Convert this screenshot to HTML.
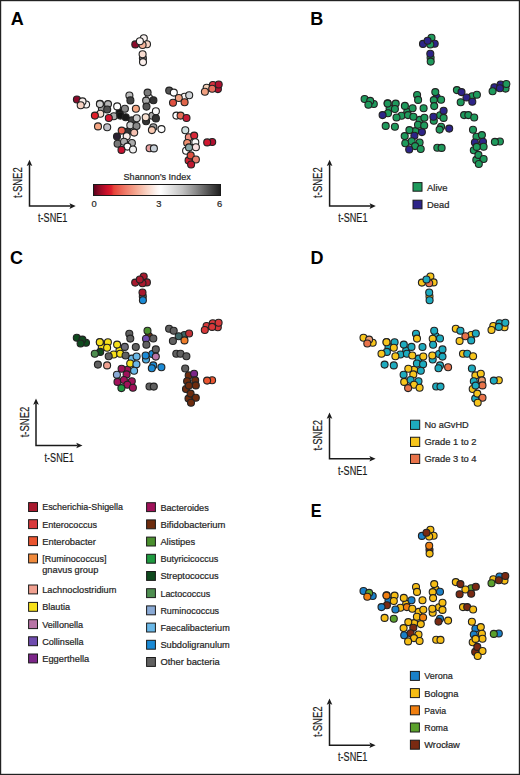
<!DOCTYPE html>
<html><head><meta charset="utf-8"><style>
html,body{margin:0;padding:0;background:#fff}
#f{position:relative;width:520px;height:775px;overflow:hidden;background:#fff}
svg{position:absolute;left:0;top:0}
.ax{font-family:"Liberation Sans",sans-serif;font-size:13.6px;fill:#1a1a1a;stroke:#1a1a1a;stroke-width:0.2px}
.lg{font-family:"Liberation Sans",sans-serif;font-size:9.4px;fill:#262626;stroke:#262626;stroke-width:0.22px}
.pl{font-family:"Liberation Sans",sans-serif;font-size:18px;font-weight:bold;fill:#000}
</style></head><body><div id="f">
<svg width="520" height="775" viewBox="0 0 520 775">
<rect x="0.6" y="0.6" width="518.8" height="773.8" fill="none" stroke="#222" stroke-width="1.2"/>
<text class="pl" x="10.8" y="25.2">A</text>
<text class="pl" x="310.2" y="25.2">B</text>
<text class="pl" x="10" y="263.5">C</text>
<text class="pl" x="310.5" y="263.5">D</text>
<text class="pl" transform="translate(310.7 516.9) scale(0.9 0.97)">E</text>
<g stroke="#222" stroke-width="1.1"><circle cx="142.9" cy="58.2" r="3.5" fill="#888888"/><circle cx="100.0" cy="103.8" r="3.5" fill="#c8c8c8"/><circle cx="101.9" cy="108.7" r="3.5" fill="#9a9a9a"/><circle cx="119.6" cy="112.2" r="3.5" fill="#141414"/><circle cx="152.4" cy="115.8" r="3.5" fill="#aaaaaa"/><circle cx="127.6" cy="131.6" r="3.5" fill="#333333"/><circle cx="184.6" cy="96.8" r="3.5" fill="#f6f2f0"/><circle cx="186.1" cy="150.8" r="3.5" fill="#ffffff"/><circle cx="188.6" cy="160.4" r="3.5" fill="#d02030"/><circle cx="212.2" cy="142.0" r="3.5" fill="#b01030"/><circle cx="217.9" cy="89.1" r="3.5" fill="#b01030"/><circle cx="149.0" cy="97.8" r="3.5" fill="#f4f4f4"/><circle cx="132.0" cy="120.4" r="3.5" fill="#444444"/><circle cx="143.8" cy="38.3" r="3.5" fill="#f7f0ee"/><circle cx="135.3" cy="44.4" r="3.5" fill="#8b0a2a"/><circle cx="147.0" cy="44.2" r="3.5" fill="#f8d4c4"/><circle cx="142.6" cy="45.0" r="3.5" fill="#f4b39a"/><circle cx="139.9" cy="41.3" r="3.5" fill="#fbf5f3"/><circle cx="142.6" cy="54.3" r="3.5" fill="#f8dcd0"/><circle cx="143.0" cy="62.1" r="3.5" fill="#fcf0ec"/><circle cx="76.9" cy="99.5" r="3.5" fill="#8b0a2a"/><circle cx="86.1" cy="104.5" r="3.5" fill="#f5f3f3"/><circle cx="82.5" cy="101.4" r="3.5" fill="#f8efec"/><circle cx="80.7" cy="105.3" r="3.5" fill="#f5d0c0"/><circle cx="99.9" cy="104.1" r="3.5" fill="#d0d0d0"/><circle cx="108.0" cy="104.1" r="3.5" fill="#b5b5b5"/><circle cx="107.2" cy="109.5" r="3.5" fill="#505050"/><circle cx="100.3" cy="113.7" r="3.5" fill="#f8ddd0"/><circle cx="94.9" cy="115.6" r="3.5" fill="#e0202a"/><circle cx="113.8" cy="116.3" r="3.5" fill="#a8a8a8"/><circle cx="108.8" cy="118.0" r="3.5" fill="#d51530"/><circle cx="117.2" cy="106.4" r="3.5" fill="#ffffff"/><circle cx="124.9" cy="108.7" r="3.5" fill="#888888"/><circle cx="120.3" cy="115.6" r="3.5" fill="#141414"/><circle cx="125.7" cy="117.3" r="3.5" fill="#1a1a1a"/><circle cx="129.4" cy="95.5" r="3.5" fill="#bbbbbb"/><circle cx="130.4" cy="100.4" r="3.5" fill="#444444"/><circle cx="135.9" cy="108.8" r="3.5" fill="#f4a582"/><circle cx="147.6" cy="92.6" r="3.5" fill="#7a7a7a"/><circle cx="146.1" cy="100.6" r="3.5" fill="#aaaaaa"/><circle cx="153.4" cy="100.3" r="3.5" fill="#333333"/><circle cx="146.5" cy="106.6" r="3.5" fill="#555555"/><circle cx="155.9" cy="111.2" r="3.5" fill="#f8f8f8"/><circle cx="155.9" cy="118.4" r="3.5" fill="#333333"/><circle cx="136.7" cy="118.3" r="3.5" fill="#cccccc"/><circle cx="146.1" cy="121.3" r="3.5" fill="#333333"/><circle cx="145.7" cy="117.3" r="3.5" fill="#f8e0d0"/><circle cx="98.0" cy="126.4" r="3.5" fill="#f4a582"/><circle cx="107.2" cy="127.2" r="3.5" fill="#c0c0c8"/><circle cx="130.3" cy="125.3" r="3.5" fill="#cccccc"/><circle cx="136.5" cy="126.0" r="3.5" fill="#888888"/><circle cx="134.2" cy="132.6" r="3.5" fill="#f4c0b0"/><circle cx="121.7" cy="130.6" r="3.5" fill="#e8604d"/><circle cx="126.7" cy="136.2" r="3.5" fill="#f8ece8"/><circle cx="117.0" cy="136.6" r="3.5" fill="#2a2030"/><circle cx="131.9" cy="143.0" r="3.5" fill="#aaaaaa"/><circle cx="117.6" cy="143.7" r="3.5" fill="#777777"/><circle cx="124.0" cy="141.8" r="3.5" fill="#aaaaaa"/><circle cx="127.4" cy="146.6" r="3.5" fill="#ffffff"/><circle cx="133.0" cy="149.5" r="3.5" fill="#f0f0f0"/><circle cx="121.5" cy="149.9" r="3.5" fill="#c8102e"/><circle cx="153.4" cy="127.2" r="3.5" fill="#999999"/><circle cx="151.9" cy="130.1" r="3.5" fill="#f8c8b0"/><circle cx="161.5" cy="129.1" r="3.5" fill="#ffffff"/><circle cx="149.6" cy="148.3" r="3.5" fill="#e8a0a0"/><circle cx="153.9" cy="148.4" r="3.5" fill="#c8d0d8"/><circle cx="178.8" cy="98.0" r="3.5" fill="#f0a080"/><circle cx="169.2" cy="90.6" r="3.5" fill="#555555"/><circle cx="173.8" cy="92.6" r="3.5" fill="#ffffff"/><circle cx="189.2" cy="95.3" r="3.5" fill="#d0d4d8"/><circle cx="184.6" cy="102.2" r="3.5" fill="#e0654a"/><circle cx="173.0" cy="102.8" r="3.5" fill="#e05040"/><circle cx="176.4" cy="115.6" r="3.5" fill="#ffffff"/><circle cx="180.6" cy="115.6" r="3.5" fill="#e8705a"/><circle cx="186.5" cy="118.0" r="3.5" fill="#c81a35"/><circle cx="185.3" cy="130.3" r="3.5" fill="#d0e0e0"/><circle cx="188.8" cy="137.2" r="3.5" fill="#f09080"/><circle cx="194.2" cy="135.6" r="3.5" fill="#d82838"/><circle cx="187.2" cy="143.0" r="3.5" fill="#f09070"/><circle cx="195.3" cy="142.2" r="3.5" fill="#f8f8f8"/><circle cx="195.9" cy="147.2" r="3.5" fill="#f8e0e0"/><circle cx="189.0" cy="147.4" r="3.5" fill="#8aa8a8"/><circle cx="190.7" cy="155.4" r="3.5" fill="#e05040"/><circle cx="195.9" cy="159.5" r="3.5" fill="#e88070"/><circle cx="191.1" cy="164.5" r="3.5" fill="#c01830"/><circle cx="207.2" cy="142.4" r="3.5" fill="#d01830"/><circle cx="206.7" cy="87.8" r="3.5" fill="#f4d0b8"/><circle cx="204.9" cy="91.8" r="3.5" fill="#f0a080"/><circle cx="212.9" cy="85.0" r="3.5" fill="#d83040"/><circle cx="212.2" cy="88.7" r="3.5" fill="#e87060"/><circle cx="218.7" cy="84.5" r="3.5" fill="#b01030"/></g>
<g stroke="#222" stroke-width="1.1"><circle cx="430.6" cy="57.7" r="3.5" fill="#1e9a5c"/><circle cx="387.7" cy="103.3" r="3.5" fill="#1e9a5c"/><circle cx="389.6" cy="108.2" r="3.5" fill="#1e9a5c"/><circle cx="407.3" cy="111.7" r="3.5" fill="#1e9a5c"/><circle cx="440.1" cy="115.3" r="3.5" fill="#1e9a5c"/><circle cx="415.3" cy="131.1" r="3.5" fill="#1e9a5c"/><circle cx="472.3" cy="96.3" r="3.5" fill="#1e9a5c"/><circle cx="473.8" cy="150.3" r="3.5" fill="#1e9a5c"/><circle cx="476.3" cy="159.9" r="3.5" fill="#1e9a5c"/><circle cx="499.9" cy="141.5" r="3.5" fill="#1e9a5c"/><circle cx="505.6" cy="88.6" r="3.5" fill="#1e9a5c"/><circle cx="436.7" cy="97.3" r="3.5" fill="#2d2488"/><circle cx="419.7" cy="119.9" r="3.5" fill="#1e9a5c"/><circle cx="431.5" cy="37.8" r="3.5" fill="#1e9a5c"/><circle cx="423.0" cy="43.9" r="3.5" fill="#2d2488"/><circle cx="434.7" cy="43.7" r="3.5" fill="#2d2488"/><circle cx="430.3" cy="44.5" r="3.5" fill="#1e9a5c"/><circle cx="427.6" cy="40.8" r="3.5" fill="#2d2488"/><circle cx="430.3" cy="53.8" r="3.5" fill="#2d2488"/><circle cx="430.7" cy="61.6" r="3.5" fill="#1e9a5c"/><circle cx="364.6" cy="99.0" r="3.5" fill="#1e9a5c"/><circle cx="373.8" cy="104.0" r="3.5" fill="#1e9a5c"/><circle cx="370.2" cy="100.9" r="3.5" fill="#1e9a5c"/><circle cx="368.4" cy="104.8" r="3.5" fill="#1e9a5c"/><circle cx="387.6" cy="103.6" r="3.5" fill="#1e9a5c"/><circle cx="395.7" cy="103.6" r="3.5" fill="#1e9a5c"/><circle cx="394.9" cy="109.0" r="3.5" fill="#1e9a5c"/><circle cx="388.0" cy="113.2" r="3.5" fill="#1e9a5c"/><circle cx="382.6" cy="115.1" r="3.5" fill="#2d2488"/><circle cx="401.5" cy="115.8" r="3.5" fill="#1e9a5c"/><circle cx="396.5" cy="117.5" r="3.5" fill="#1e9a5c"/><circle cx="404.9" cy="105.9" r="3.5" fill="#1e9a5c"/><circle cx="412.6" cy="108.2" r="3.5" fill="#1e9a5c"/><circle cx="408.0" cy="115.1" r="3.5" fill="#1e9a5c"/><circle cx="413.4" cy="116.8" r="3.5" fill="#1e9a5c"/><circle cx="417.1" cy="95.0" r="3.5" fill="#1e9a5c"/><circle cx="418.1" cy="99.9" r="3.5" fill="#1e9a5c"/><circle cx="423.6" cy="108.3" r="3.5" fill="#1e9a5c"/><circle cx="435.3" cy="92.1" r="3.5" fill="#1e9a5c"/><circle cx="433.8" cy="100.1" r="3.5" fill="#1e9a5c"/><circle cx="441.1" cy="99.8" r="3.5" fill="#1e9a5c"/><circle cx="434.2" cy="106.1" r="3.5" fill="#1e9a5c"/><circle cx="443.6" cy="110.7" r="3.5" fill="#2d2488"/><circle cx="443.6" cy="117.9" r="3.5" fill="#1e9a5c"/><circle cx="424.4" cy="117.8" r="3.5" fill="#1e9a5c"/><circle cx="433.8" cy="120.8" r="3.5" fill="#1e9a5c"/><circle cx="433.4" cy="116.8" r="3.5" fill="#2d2488"/><circle cx="385.7" cy="125.9" r="3.5" fill="#1e9a5c"/><circle cx="394.9" cy="126.7" r="3.5" fill="#1e9a5c"/><circle cx="418.0" cy="124.8" r="3.5" fill="#1e9a5c"/><circle cx="424.2" cy="125.5" r="3.5" fill="#1e9a5c"/><circle cx="421.9" cy="132.1" r="3.5" fill="#2d2488"/><circle cx="409.4" cy="130.1" r="3.5" fill="#1e9a5c"/><circle cx="414.4" cy="135.7" r="3.5" fill="#2d2488"/><circle cx="404.7" cy="136.1" r="3.5" fill="#1e9a5c"/><circle cx="419.6" cy="142.5" r="3.5" fill="#1e9a5c"/><circle cx="405.3" cy="143.2" r="3.5" fill="#1e9a5c"/><circle cx="411.7" cy="141.3" r="3.5" fill="#1e9a5c"/><circle cx="415.1" cy="146.1" r="3.5" fill="#1e9a5c"/><circle cx="420.7" cy="149.0" r="3.5" fill="#1e9a5c"/><circle cx="409.2" cy="149.4" r="3.5" fill="#2d2488"/><circle cx="441.1" cy="126.7" r="3.5" fill="#1e9a5c"/><circle cx="439.6" cy="129.6" r="3.5" fill="#1e9a5c"/><circle cx="449.2" cy="128.6" r="3.5" fill="#2d2488"/><circle cx="437.3" cy="147.8" r="3.5" fill="#1e9a5c"/><circle cx="441.6" cy="147.9" r="3.5" fill="#1e9a5c"/><circle cx="466.5" cy="97.5" r="3.5" fill="#2d2488"/><circle cx="456.9" cy="90.1" r="3.5" fill="#1e9a5c"/><circle cx="461.5" cy="92.1" r="3.5" fill="#2d2488"/><circle cx="476.9" cy="94.8" r="3.5" fill="#1e9a5c"/><circle cx="472.3" cy="101.7" r="3.5" fill="#2d2488"/><circle cx="460.7" cy="102.3" r="3.5" fill="#1e9a5c"/><circle cx="464.1" cy="115.1" r="3.5" fill="#1e9a5c"/><circle cx="468.3" cy="115.1" r="3.5" fill="#1e9a5c"/><circle cx="474.2" cy="117.5" r="3.5" fill="#1e9a5c"/><circle cx="473.0" cy="129.8" r="3.5" fill="#1e9a5c"/><circle cx="476.5" cy="136.7" r="3.5" fill="#1e9a5c"/><circle cx="481.9" cy="135.1" r="3.5" fill="#1e9a5c"/><circle cx="474.9" cy="142.5" r="3.5" fill="#2d2488"/><circle cx="483.0" cy="141.7" r="3.5" fill="#2d2488"/><circle cx="483.6" cy="146.7" r="3.5" fill="#1e9a5c"/><circle cx="476.7" cy="146.9" r="3.5" fill="#1e9a5c"/><circle cx="478.4" cy="154.9" r="3.5" fill="#1e9a5c"/><circle cx="483.6" cy="159.0" r="3.5" fill="#1e9a5c"/><circle cx="478.8" cy="164.0" r="3.5" fill="#1e9a5c"/><circle cx="494.9" cy="141.9" r="3.5" fill="#1e9a5c"/><circle cx="494.4" cy="87.3" r="3.5" fill="#2d2488"/><circle cx="492.6" cy="91.3" r="3.5" fill="#1e9a5c"/><circle cx="500.6" cy="84.5" r="3.5" fill="#2d2488"/><circle cx="499.9" cy="88.2" r="3.5" fill="#2d2488"/><circle cx="506.4" cy="84.0" r="3.5" fill="#1e9a5c"/></g>
<g stroke="#222" stroke-width="1.1"><circle cx="142.8" cy="296.4" r="3.5" fill="#606060"/><circle cx="99.9" cy="342.0" r="3.5" fill="#f7e01a"/><circle cx="101.8" cy="346.9" r="3.5" fill="#f7e01a"/><circle cx="119.5" cy="350.4" r="3.5" fill="#f7e01a"/><circle cx="152.3" cy="354.0" r="3.5" fill="#1a8ad5"/><circle cx="127.5" cy="369.8" r="3.5" fill="#a0125a"/><circle cx="184.5" cy="335.0" r="3.5" fill="#3d6666"/><circle cx="186.0" cy="389.0" r="3.5" fill="#6e2c0e"/><circle cx="188.5" cy="398.6" r="3.5" fill="#6e2c0e"/><circle cx="212.1" cy="380.2" r="3.5" fill="#ea5530"/><circle cx="217.8" cy="327.3" r="3.5" fill="#d8383a"/><circle cx="148.9" cy="336.0" r="3.5" fill="#6e2c0e"/><circle cx="131.9" cy="358.6" r="3.5" fill="#6ab8e8"/><circle cx="143.7" cy="276.5" r="3.5" fill="#a8192e"/><circle cx="135.2" cy="282.6" r="3.5" fill="#a8192e"/><circle cx="146.9" cy="282.4" r="3.5" fill="#a8192e"/><circle cx="142.5" cy="283.2" r="3.5" fill="#a8192e"/><circle cx="139.8" cy="279.5" r="3.5" fill="#a8192e"/><circle cx="142.5" cy="292.5" r="3.5" fill="#a8192e"/><circle cx="142.9" cy="300.3" r="3.5" fill="#1a8ad5"/><circle cx="76.8" cy="337.7" r="3.5" fill="#0f4a1e"/><circle cx="86.0" cy="342.7" r="3.5" fill="#0f4a1e"/><circle cx="82.4" cy="339.6" r="3.5" fill="#0f4a1e"/><circle cx="80.6" cy="343.5" r="3.5" fill="#0f4a1e"/><circle cx="99.8" cy="342.3" r="3.5" fill="#f7e01a"/><circle cx="107.9" cy="342.3" r="3.5" fill="#f7e01a"/><circle cx="107.1" cy="347.7" r="3.5" fill="#f7e01a"/><circle cx="100.2" cy="351.9" r="3.5" fill="#0f4a1e"/><circle cx="94.8" cy="353.8" r="3.5" fill="#4e8e50"/><circle cx="113.7" cy="354.5" r="3.5" fill="#f7e01a"/><circle cx="108.7" cy="356.2" r="3.5" fill="#606060"/><circle cx="117.1" cy="344.6" r="3.5" fill="#f7e01a"/><circle cx="124.8" cy="346.9" r="3.5" fill="#6c6c78"/><circle cx="120.2" cy="353.8" r="3.5" fill="#f7e01a"/><circle cx="125.6" cy="355.5" r="3.5" fill="#606060"/><circle cx="129.3" cy="333.7" r="3.5" fill="#606060"/><circle cx="130.3" cy="338.6" r="3.5" fill="#606060"/><circle cx="135.8" cy="347.0" r="3.5" fill="#606060"/><circle cx="147.5" cy="330.8" r="3.5" fill="#4a8f2e"/><circle cx="146.0" cy="338.8" r="3.5" fill="#6f4cae"/><circle cx="153.3" cy="338.5" r="3.5" fill="#606060"/><circle cx="146.4" cy="344.8" r="3.5" fill="#606060"/><circle cx="155.8" cy="349.4" r="3.5" fill="#606060"/><circle cx="155.8" cy="356.6" r="3.5" fill="#b874a6"/><circle cx="136.6" cy="356.5" r="3.5" fill="#6ab8e8"/><circle cx="146.0" cy="359.5" r="3.5" fill="#4aa8dd"/><circle cx="145.6" cy="355.5" r="3.5" fill="#1a8ad5"/><circle cx="97.9" cy="364.6" r="3.5" fill="#606060"/><circle cx="107.1" cy="365.4" r="3.5" fill="#f0a090"/><circle cx="130.2" cy="363.5" r="3.5" fill="#f7e01a"/><circle cx="136.4" cy="364.2" r="3.5" fill="#6ab8e8"/><circle cx="134.1" cy="370.8" r="3.5" fill="#6ab8e8"/><circle cx="121.6" cy="368.8" r="3.5" fill="#a0125a"/><circle cx="126.6" cy="374.4" r="3.5" fill="#a0125a"/><circle cx="116.9" cy="374.8" r="3.5" fill="#8aaad5"/><circle cx="131.8" cy="381.2" r="3.5" fill="#a0125a"/><circle cx="117.5" cy="381.9" r="3.5" fill="#a0125a"/><circle cx="123.9" cy="380.0" r="3.5" fill="#a0125a"/><circle cx="127.3" cy="384.8" r="3.5" fill="#a0125a"/><circle cx="132.9" cy="387.7" r="3.5" fill="#a0125a"/><circle cx="121.4" cy="388.1" r="3.5" fill="#1f9a40"/><circle cx="153.3" cy="365.4" r="3.5" fill="#1a8ad5"/><circle cx="151.8" cy="368.3" r="3.5" fill="#1a8ad5"/><circle cx="161.4" cy="367.3" r="3.5" fill="#1a8ad5"/><circle cx="149.5" cy="386.5" r="3.5" fill="#606060"/><circle cx="153.8" cy="386.6" r="3.5" fill="#606060"/><circle cx="178.7" cy="336.2" r="3.5" fill="#3d6666"/><circle cx="169.1" cy="328.8" r="3.5" fill="#606060"/><circle cx="173.7" cy="330.8" r="3.5" fill="#606060"/><circle cx="189.1" cy="333.5" r="3.5" fill="#c43036"/><circle cx="184.5" cy="340.4" r="3.5" fill="#ef7d2a"/><circle cx="172.9" cy="341.0" r="3.5" fill="#606060"/><circle cx="176.3" cy="353.8" r="3.5" fill="#606060"/><circle cx="180.5" cy="353.8" r="3.5" fill="#606060"/><circle cx="186.4" cy="356.2" r="3.5" fill="#606060"/><circle cx="185.2" cy="368.5" r="3.5" fill="#606060"/><circle cx="188.7" cy="375.4" r="3.5" fill="#6e2c0e"/><circle cx="194.1" cy="373.8" r="3.5" fill="#7c2689"/><circle cx="187.1" cy="381.2" r="3.5" fill="#6e2c0e"/><circle cx="195.2" cy="380.4" r="3.5" fill="#6e2c0e"/><circle cx="195.8" cy="385.4" r="3.5" fill="#6e2c0e"/><circle cx="188.9" cy="385.6" r="3.5" fill="#6e2c0e"/><circle cx="190.6" cy="393.6" r="3.5" fill="#6e2c0e"/><circle cx="195.8" cy="397.7" r="3.5" fill="#6e2c0e"/><circle cx="191.0" cy="402.7" r="3.5" fill="#6e2c0e"/><circle cx="207.1" cy="380.6" r="3.5" fill="#ea5530"/><circle cx="206.6" cy="326.0" r="3.5" fill="#d8383a"/><circle cx="204.8" cy="330.0" r="3.5" fill="#d8383a"/><circle cx="212.8" cy="323.2" r="3.5" fill="#d8383a"/><circle cx="212.1" cy="326.9" r="3.5" fill="#d8383a"/><circle cx="218.6" cy="322.7" r="3.5" fill="#d8383a"/></g>
<g stroke="#222" stroke-width="1.1"><circle cx="429.5" cy="296.4" r="3.5" fill="#f7c51c"/><circle cx="386.6" cy="342.0" r="3.5" fill="#1eabbf"/><circle cx="388.5" cy="346.9" r="3.5" fill="#1eabbf"/><circle cx="406.2" cy="350.4" r="3.5" fill="#1eabbf"/><circle cx="439.0" cy="354.0" r="3.5" fill="#1eabbf"/><circle cx="414.2" cy="369.8" r="3.5" fill="#f7c51c"/><circle cx="471.2" cy="335.0" r="3.5" fill="#f7c51c"/><circle cx="472.7" cy="389.0" r="3.5" fill="#f7c51c"/><circle cx="475.2" cy="398.6" r="3.5" fill="#1eabbf"/><circle cx="498.8" cy="380.2" r="3.5" fill="#f7c51c"/><circle cx="504.5" cy="327.3" r="3.5" fill="#f7c51c"/><circle cx="435.6" cy="336.0" r="3.5" fill="#1eabbf"/><circle cx="418.6" cy="358.6" r="3.5" fill="#1eabbf"/><circle cx="430.4" cy="276.5" r="3.5" fill="#f7c51c"/><circle cx="421.9" cy="282.6" r="3.5" fill="#f7c51c"/><circle cx="433.6" cy="282.4" r="3.5" fill="#f7c51c"/><circle cx="429.2" cy="283.2" r="3.5" fill="#e8734a"/><circle cx="426.5" cy="279.5" r="3.5" fill="#1eabbf"/><circle cx="429.2" cy="292.5" r="3.5" fill="#1eabbf"/><circle cx="429.6" cy="300.3" r="3.5" fill="#1eabbf"/><circle cx="363.5" cy="337.7" r="3.5" fill="#f7c51c"/><circle cx="372.7" cy="342.7" r="3.5" fill="#f7c51c"/><circle cx="369.1" cy="339.6" r="3.5" fill="#e89a70"/><circle cx="367.3" cy="343.5" r="3.5" fill="#e8734a"/><circle cx="386.5" cy="342.3" r="3.5" fill="#f7c51c"/><circle cx="394.6" cy="342.3" r="3.5" fill="#1eabbf"/><circle cx="393.8" cy="347.7" r="3.5" fill="#f7c51c"/><circle cx="386.9" cy="351.9" r="3.5" fill="#1eabbf"/><circle cx="381.5" cy="353.8" r="3.5" fill="#f7c51c"/><circle cx="400.4" cy="354.5" r="3.5" fill="#1eabbf"/><circle cx="395.4" cy="356.2" r="3.5" fill="#f7c51c"/><circle cx="403.8" cy="344.6" r="3.5" fill="#1eabbf"/><circle cx="411.5" cy="346.9" r="3.5" fill="#1eabbf"/><circle cx="406.9" cy="353.8" r="3.5" fill="#1eabbf"/><circle cx="412.3" cy="355.5" r="3.5" fill="#f7c51c"/><circle cx="416.0" cy="333.7" r="3.5" fill="#1eabbf"/><circle cx="417.0" cy="338.6" r="3.5" fill="#f7c51c"/><circle cx="422.5" cy="347.0" r="3.5" fill="#1eabbf"/><circle cx="434.2" cy="330.8" r="3.5" fill="#1eabbf"/><circle cx="432.7" cy="338.8" r="3.5" fill="#f7c51c"/><circle cx="440.0" cy="338.5" r="3.5" fill="#1eabbf"/><circle cx="433.1" cy="344.8" r="3.5" fill="#1eabbf"/><circle cx="442.5" cy="349.4" r="3.5" fill="#1eabbf"/><circle cx="442.5" cy="356.6" r="3.5" fill="#1eabbf"/><circle cx="423.3" cy="356.5" r="3.5" fill="#f7c51c"/><circle cx="432.7" cy="359.5" r="3.5" fill="#1eabbf"/><circle cx="432.3" cy="355.5" r="3.5" fill="#f7c51c"/><circle cx="384.6" cy="364.6" r="3.5" fill="#1eabbf"/><circle cx="393.8" cy="365.4" r="3.5" fill="#1eabbf"/><circle cx="416.9" cy="363.5" r="3.5" fill="#1eabbf"/><circle cx="423.1" cy="364.2" r="3.5" fill="#1eabbf"/><circle cx="420.8" cy="370.8" r="3.5" fill="#1eabbf"/><circle cx="408.3" cy="368.8" r="3.5" fill="#f7c51c"/><circle cx="413.3" cy="374.4" r="3.5" fill="#f7c51c"/><circle cx="403.6" cy="374.8" r="3.5" fill="#1eabbf"/><circle cx="418.5" cy="381.2" r="3.5" fill="#1eabbf"/><circle cx="404.2" cy="381.9" r="3.5" fill="#f7c51c"/><circle cx="410.6" cy="380.0" r="3.5" fill="#1eabbf"/><circle cx="414.0" cy="384.8" r="3.5" fill="#f7c51c"/><circle cx="419.6" cy="387.7" r="3.5" fill="#f7c51c"/><circle cx="408.1" cy="388.1" r="3.5" fill="#e8734a"/><circle cx="440.0" cy="365.4" r="3.5" fill="#1eabbf"/><circle cx="438.5" cy="368.3" r="3.5" fill="#1eabbf"/><circle cx="448.1" cy="367.3" r="3.5" fill="#e8734a"/><circle cx="436.2" cy="386.5" r="3.5" fill="#1eabbf"/><circle cx="440.5" cy="386.6" r="3.5" fill="#1eabbf"/><circle cx="465.4" cy="336.2" r="3.5" fill="#e8734a"/><circle cx="455.8" cy="328.8" r="3.5" fill="#f7c51c"/><circle cx="460.4" cy="330.8" r="3.5" fill="#1eabbf"/><circle cx="475.8" cy="333.5" r="3.5" fill="#1eabbf"/><circle cx="471.2" cy="340.4" r="3.5" fill="#1eabbf"/><circle cx="459.6" cy="341.0" r="3.5" fill="#f7c51c"/><circle cx="463.0" cy="353.8" r="3.5" fill="#f7c51c"/><circle cx="467.2" cy="353.8" r="3.5" fill="#1eabbf"/><circle cx="473.1" cy="356.2" r="3.5" fill="#f7c51c"/><circle cx="471.9" cy="368.5" r="3.5" fill="#1eabbf"/><circle cx="475.4" cy="375.4" r="3.5" fill="#f7c51c"/><circle cx="480.8" cy="373.8" r="3.5" fill="#f7c51c"/><circle cx="473.8" cy="381.2" r="3.5" fill="#1eabbf"/><circle cx="481.9" cy="380.4" r="3.5" fill="#e89a70"/><circle cx="482.5" cy="385.4" r="3.5" fill="#e8734a"/><circle cx="475.6" cy="385.6" r="3.5" fill="#1eabbf"/><circle cx="477.3" cy="393.6" r="3.5" fill="#f7c51c"/><circle cx="482.5" cy="397.7" r="3.5" fill="#e8734a"/><circle cx="477.7" cy="402.7" r="3.5" fill="#f7c51c"/><circle cx="493.8" cy="380.6" r="3.5" fill="#1eabbf"/><circle cx="493.3" cy="326.0" r="3.5" fill="#f7c51c"/><circle cx="491.5" cy="330.0" r="3.5" fill="#f7c51c"/><circle cx="499.5" cy="323.2" r="3.5" fill="#1eabbf"/><circle cx="498.8" cy="326.9" r="3.5" fill="#1eabbf"/><circle cx="505.3" cy="322.7" r="3.5" fill="#1eabbf"/></g>
<g stroke="#222" stroke-width="1.1"><circle cx="429.5" cy="549.7" r="3.5" fill="#7a2a12"/><circle cx="386.6" cy="595.3" r="3.5" fill="#f07f10"/><circle cx="388.5" cy="600.2" r="3.5" fill="#1a80c8"/><circle cx="406.2" cy="603.7" r="3.5" fill="#f6bd14"/><circle cx="439.0" cy="607.3" r="3.5" fill="#f6bd14"/><circle cx="414.2" cy="623.1" r="3.5" fill="#f6bd14"/><circle cx="471.2" cy="588.3" r="3.5" fill="#5aa02c"/><circle cx="472.7" cy="642.3" r="3.5" fill="#f6bd14"/><circle cx="475.2" cy="651.9" r="3.5" fill="#7a2a12"/><circle cx="498.8" cy="633.5" r="3.5" fill="#1a80c8"/><circle cx="504.5" cy="580.6" r="3.5" fill="#f6bd14"/><circle cx="435.6" cy="589.3" r="3.5" fill="#f6bd14"/><circle cx="418.6" cy="611.9" r="3.5" fill="#f6bd14"/><circle cx="430.4" cy="529.8" r="3.5" fill="#f6bd14"/><circle cx="421.9" cy="535.9" r="3.5" fill="#1a80c8"/><circle cx="433.6" cy="535.7" r="3.5" fill="#f6bd14"/><circle cx="429.2" cy="536.5" r="3.5" fill="#f6bd14"/><circle cx="426.5" cy="532.8" r="3.5" fill="#7a2a12"/><circle cx="429.2" cy="545.8" r="3.5" fill="#f07f10"/><circle cx="429.6" cy="553.6" r="3.5" fill="#f6bd14"/><circle cx="363.5" cy="591.0" r="3.5" fill="#1a80c8"/><circle cx="372.7" cy="596.0" r="3.5" fill="#1a80c8"/><circle cx="369.1" cy="592.9" r="3.5" fill="#5aa02c"/><circle cx="367.3" cy="596.8" r="3.5" fill="#f07f10"/><circle cx="386.5" cy="595.6" r="3.5" fill="#f07f10"/><circle cx="394.6" cy="595.6" r="3.5" fill="#f6bd14"/><circle cx="393.8" cy="601.0" r="3.5" fill="#f6bd14"/><circle cx="386.9" cy="605.2" r="3.5" fill="#7a2a12"/><circle cx="381.5" cy="607.1" r="3.5" fill="#1a80c8"/><circle cx="400.4" cy="607.8" r="3.5" fill="#f6bd14"/><circle cx="395.4" cy="609.5" r="3.5" fill="#1a80c8"/><circle cx="403.8" cy="597.9" r="3.5" fill="#f6bd14"/><circle cx="411.5" cy="600.2" r="3.5" fill="#1a80c8"/><circle cx="406.9" cy="607.1" r="3.5" fill="#f07f10"/><circle cx="412.3" cy="608.8" r="3.5" fill="#f6bd14"/><circle cx="416.0" cy="587.0" r="3.5" fill="#f6bd14"/><circle cx="417.0" cy="591.9" r="3.5" fill="#f6bd14"/><circle cx="422.5" cy="600.3" r="3.5" fill="#f6bd14"/><circle cx="434.2" cy="584.1" r="3.5" fill="#f6bd14"/><circle cx="432.7" cy="592.1" r="3.5" fill="#f6bd14"/><circle cx="440.0" cy="591.8" r="3.5" fill="#1a80c8"/><circle cx="433.1" cy="598.1" r="3.5" fill="#f6bd14"/><circle cx="442.5" cy="602.7" r="3.5" fill="#f6bd14"/><circle cx="442.5" cy="609.9" r="3.5" fill="#f6bd14"/><circle cx="423.3" cy="609.8" r="3.5" fill="#f6bd14"/><circle cx="432.7" cy="612.8" r="3.5" fill="#f6bd14"/><circle cx="432.3" cy="608.8" r="3.5" fill="#f6bd14"/><circle cx="384.6" cy="617.9" r="3.5" fill="#f6bd14"/><circle cx="393.8" cy="618.7" r="3.5" fill="#5aa02c"/><circle cx="416.9" cy="616.8" r="3.5" fill="#f6bd14"/><circle cx="423.1" cy="617.5" r="3.5" fill="#f07f10"/><circle cx="420.8" cy="624.1" r="3.5" fill="#f6bd14"/><circle cx="408.3" cy="622.1" r="3.5" fill="#f6bd14"/><circle cx="413.3" cy="627.7" r="3.5" fill="#7a2a12"/><circle cx="403.6" cy="628.1" r="3.5" fill="#f6bd14"/><circle cx="418.5" cy="634.5" r="3.5" fill="#f6bd14"/><circle cx="404.2" cy="635.2" r="3.5" fill="#1a80c8"/><circle cx="410.6" cy="633.3" r="3.5" fill="#7a2a12"/><circle cx="414.0" cy="638.1" r="3.5" fill="#f6bd14"/><circle cx="419.6" cy="641.0" r="3.5" fill="#f6bd14"/><circle cx="408.1" cy="641.4" r="3.5" fill="#f6bd14"/><circle cx="440.0" cy="618.7" r="3.5" fill="#1a80c8"/><circle cx="438.5" cy="621.6" r="3.5" fill="#7a2a12"/><circle cx="448.1" cy="620.6" r="3.5" fill="#f6bd14"/><circle cx="436.2" cy="639.8" r="3.5" fill="#f6bd14"/><circle cx="440.5" cy="639.9" r="3.5" fill="#f6bd14"/><circle cx="465.4" cy="589.5" r="3.5" fill="#f6bd14"/><circle cx="455.8" cy="582.1" r="3.5" fill="#f6bd14"/><circle cx="460.4" cy="584.1" r="3.5" fill="#7a2a12"/><circle cx="475.8" cy="586.8" r="3.5" fill="#7a2a12"/><circle cx="471.2" cy="593.7" r="3.5" fill="#7a2a12"/><circle cx="459.6" cy="594.3" r="3.5" fill="#7a2a12"/><circle cx="463.0" cy="607.1" r="3.5" fill="#f6bd14"/><circle cx="467.2" cy="607.1" r="3.5" fill="#7a2a12"/><circle cx="473.1" cy="609.5" r="3.5" fill="#f6bd14"/><circle cx="471.9" cy="621.8" r="3.5" fill="#f6bd14"/><circle cx="475.4" cy="628.7" r="3.5" fill="#1a80c8"/><circle cx="480.8" cy="627.1" r="3.5" fill="#f6bd14"/><circle cx="473.8" cy="634.5" r="3.5" fill="#1a80c8"/><circle cx="481.9" cy="633.7" r="3.5" fill="#f6bd14"/><circle cx="482.5" cy="638.7" r="3.5" fill="#f6bd14"/><circle cx="475.6" cy="638.9" r="3.5" fill="#f6bd14"/><circle cx="477.3" cy="646.9" r="3.5" fill="#7a2a12"/><circle cx="482.5" cy="651.0" r="3.5" fill="#f6bd14"/><circle cx="477.7" cy="656.0" r="3.5" fill="#f6bd14"/><circle cx="493.8" cy="633.9" r="3.5" fill="#5aa02c"/><circle cx="493.3" cy="579.3" r="3.5" fill="#f6bd14"/><circle cx="491.5" cy="583.3" r="3.5" fill="#5aa02c"/><circle cx="499.5" cy="576.5" r="3.5" fill="#1a80c8"/><circle cx="498.8" cy="580.2" r="3.5" fill="#7a2a12"/><circle cx="505.3" cy="576.0" r="3.5" fill="#7a2a12"/></g>
<path d="M29.5 164.7V206.1H70.7" fill="none" stroke="#1a1a1a" stroke-width="1.5"/><path d="M26.7 165.89999999999998L29.5 159.7L32.3 165.89999999999998L29.5 164.7Z" fill="#1a1a1a"/><path d="M69.5 203.29999999999998L75.7 206.1L69.5 208.9L70.7 206.1Z" fill="#1a1a1a"/><text transform="translate(22.3 182.6) rotate(-90) scale(0.70 1)" text-anchor="middle" class="ax">t-SNE2</text><text transform="translate(52.7 222.2) scale(0.67 1)" text-anchor="middle" class="ax">t-SNE1</text>
<path d="M329.6 164.7V206.1H370.8" fill="none" stroke="#1a1a1a" stroke-width="1.5"/><path d="M326.8 165.89999999999998L329.6 159.7L332.40000000000003 165.89999999999998L329.6 164.7Z" fill="#1a1a1a"/><path d="M369.6 203.29999999999998L375.8 206.1L369.6 208.9L370.8 206.1Z" fill="#1a1a1a"/><text transform="translate(322.40000000000003 182.6) rotate(-90) scale(0.70 1)" text-anchor="middle" class="ax">t-SNE2</text><text transform="translate(352.8 222.2) scale(0.67 1)" text-anchor="middle" class="ax">t-SNE1</text>
<path d="M36 403.6V445.5H77.5" fill="none" stroke="#1a1a1a" stroke-width="1.5"/><path d="M33.2 404.8L36 398.6L38.8 404.8L36 403.6Z" fill="#1a1a1a"/><path d="M76.3 442.7L82.5 445.5L76.3 448.3L77.5 445.5Z" fill="#1a1a1a"/><text transform="translate(28.8 422.0) rotate(-90) scale(0.70 1)" text-anchor="middle" class="ax">t-SNE2</text><text transform="translate(59.2 461.6) scale(0.67 1)" text-anchor="middle" class="ax">t-SNE1</text>
<path d="M329.5 417.6V458.8H370.6" fill="none" stroke="#1a1a1a" stroke-width="1.5"/><path d="M326.7 418.8L329.5 412.6L332.3 418.8L329.5 417.6Z" fill="#1a1a1a"/><path d="M369.40000000000003 456.0L375.6 458.8L369.40000000000003 461.6L370.6 458.8Z" fill="#1a1a1a"/><text transform="translate(322.3 435.3) rotate(-90) scale(0.70 1)" text-anchor="middle" class="ax">t-SNE2</text><text transform="translate(352.7 474.90000000000003) scale(0.67 1)" text-anchor="middle" class="ax">t-SNE1</text>
<path d="M329.5 703.6V745.2H370.6" fill="none" stroke="#1a1a1a" stroke-width="1.5"/><path d="M326.7 704.8000000000001L329.5 698.6L332.3 704.8000000000001L329.5 703.6Z" fill="#1a1a1a"/><path d="M369.40000000000003 742.4000000000001L375.6 745.2L369.40000000000003 748.0L370.6 745.2Z" fill="#1a1a1a"/><text transform="translate(322.3 721.7) rotate(-90) scale(0.70 1)" text-anchor="middle" class="ax">t-SNE2</text><text transform="translate(352.7 761.3000000000001) scale(0.67 1)" text-anchor="middle" class="ax">t-SNE1</text>
<defs><linearGradient id="rdgy" x1="0" x2="1" y1="0" y2="0">
<stop offset="0" stop-color="#5a001c"/><stop offset="0.04" stop-color="#8a0a24"/><stop offset="0.1" stop-color="#c8102a"/>
<stop offset="0.14" stop-color="#dc1f2c"/><stop offset="0.16" stop-color="#e6443a"/><stop offset="0.25" stop-color="#ef7a68"/>
<stop offset="0.33" stop-color="#f4a58e"/><stop offset="0.42" stop-color="#f9d3c4"/><stop offset="0.5" stop-color="#fdf6f3"/>
<stop offset="0.53" stop-color="#ffffff"/><stop offset="0.6" stop-color="#e6e6e6"/><stop offset="0.7" stop-color="#c2c2c2"/>
<stop offset="0.8" stop-color="#8e8e8e"/><stop offset="0.9" stop-color="#555555"/><stop offset="1" stop-color="#1e1e1e"/></linearGradient></defs>
<rect x="93.5" y="184.5" width="127" height="11" fill="url(#rdgy)" stroke="#1a1a1a" stroke-width="1"/>
<text class="lg" x="123.6" y="179.5" textLength="67.1" lengthAdjust="spacingAndGlyphs">Shannon&#8217;s Index</text>
<text class="lg" x="94.2" y="206.8" text-anchor="middle">0</text>
<text class="lg" x="158.9" y="206.8" text-anchor="middle">3</text>
<text class="lg" x="219.7" y="206.8" text-anchor="middle">6</text>
<rect x="413.0" y="182.6" width="9" height="8.6" fill="#1e9a5c" stroke="#1a1a1a" stroke-width="1"/><text class="lg" x="427.0" y="190.7" textLength="20.5" lengthAdjust="spacingAndGlyphs">Alive</text>
<rect x="413.0" y="200.2" width="9" height="8.6" fill="#2d2488" stroke="#1a1a1a" stroke-width="1"/><text class="lg" x="427.1" y="207.6" textLength="22.3" lengthAdjust="spacingAndGlyphs">Dead</text>
<rect x="410.5" y="420.2" width="9.2" height="9.2" fill="#1eabbf" stroke="#1a1a1a" stroke-width="1"/><text class="lg" x="424.40000000000003" y="428.09999999999997" textLength="44.3" lengthAdjust="spacingAndGlyphs">No aGvHD</text>
<rect x="410.5" y="437.25" width="9.2" height="9.2" fill="#f7c51c" stroke="#1a1a1a" stroke-width="1"/><text class="lg" x="424.40000000000003" y="445.15" textLength="52.2" lengthAdjust="spacingAndGlyphs">Grade 1 to 2</text>
<rect x="410.5" y="454.3" width="9.2" height="9.2" fill="#e8734a" stroke="#1a1a1a" stroke-width="1"/><text class="lg" x="424.40000000000003" y="462.2" textLength="52.2" lengthAdjust="spacingAndGlyphs">Grade 3 to 4</text>
<rect x="410.4" y="671.4" width="9" height="9" fill="#1a80c8" stroke="#1a1a1a" stroke-width="1"/><text class="lg" x="424.20000000000005" y="679.3" textLength="28.6" lengthAdjust="spacingAndGlyphs">Verona</text>
<rect x="410.4" y="688.6" width="9" height="9" fill="#f6bd14" stroke="#1a1a1a" stroke-width="1"/><text class="lg" x="424.20000000000005" y="696.5" textLength="34.3" lengthAdjust="spacingAndGlyphs">Bologna</text>
<rect x="410.4" y="705.8" width="9" height="9" fill="#f07f10" stroke="#1a1a1a" stroke-width="1"/><text class="lg" x="424.20000000000005" y="713.6999999999999" textLength="21.9" lengthAdjust="spacingAndGlyphs">Pavia</text>
<rect x="410.4" y="723.0" width="9" height="9" fill="#5aa02c" stroke="#1a1a1a" stroke-width="1"/><text class="lg" x="424.20000000000005" y="730.9" textLength="23.8" lengthAdjust="spacingAndGlyphs">Roma</text>
<rect x="410.4" y="740.1999999999999" width="9" height="9" fill="#7a2a12" stroke="#1a1a1a" stroke-width="1"/><text class="lg" x="424.20000000000005" y="748.0999999999999" textLength="35.7" lengthAdjust="spacingAndGlyphs">Wroc&#322;aw</text>
<rect x="28.6" y="502.6" width="8.9" height="8.9" fill="#a8192e" stroke="#1a1a1a" stroke-width="1"/><text class="lg" x="42.2" y="510.40000000000003" textLength="80.8" lengthAdjust="spacingAndGlyphs">Escherichia-Shigella</text>
<rect x="28.6" y="519.7" width="8.9" height="8.9" fill="#d8383a" stroke="#1a1a1a" stroke-width="1"/><text class="lg" x="42.2" y="527.5" textLength="54.8" lengthAdjust="spacingAndGlyphs">Enterococcus</text>
<rect x="28.6" y="536.7" width="8.9" height="8.9" fill="#ea5530" stroke="#1a1a1a" stroke-width="1"/><text class="lg" x="42.2" y="544.5" textLength="53.8" lengthAdjust="spacingAndGlyphs">Enterobacter</text>
<rect x="28.6" y="554.0" width="8.9" height="8.9" fill="#f08a3c" stroke="#1a1a1a" stroke-width="1"/><text class="lg" x="42.2" y="561.8" textLength="64.3" lengthAdjust="spacingAndGlyphs">[Ruminococcus]</text>
<rect x="28.6" y="585.0" width="8.9" height="8.9" fill="#f0a090" stroke="#1a1a1a" stroke-width="1"/><text class="lg" x="42.2" y="592.8" textLength="74.2" lengthAdjust="spacingAndGlyphs">Lachnoclostridium</text>
<rect x="28.6" y="602.4" width="8.9" height="8.9" fill="#f7e01a" stroke="#1a1a1a" stroke-width="1"/><text class="lg" x="42.2" y="610.1999999999999" textLength="27.9" lengthAdjust="spacingAndGlyphs">Blautia</text>
<rect x="28.6" y="619.7" width="8.9" height="8.9" fill="#b874a6" stroke="#1a1a1a" stroke-width="1"/><text class="lg" x="42.2" y="627.5" textLength="41.0" lengthAdjust="spacingAndGlyphs">Veillonella</text>
<rect x="28.6" y="636.8" width="8.9" height="8.9" fill="#6f4cae" stroke="#1a1a1a" stroke-width="1"/><text class="lg" x="42.2" y="644.5999999999999" textLength="41.4" lengthAdjust="spacingAndGlyphs">Collinsella</text>
<rect x="28.6" y="654.0" width="8.9" height="8.9" fill="#7c2689" stroke="#1a1a1a" stroke-width="1"/><text class="lg" x="42.2" y="661.8" textLength="47.1" lengthAdjust="spacingAndGlyphs">Eggerthella</text>
<text class="lg" x="42.2" y="573.1" textLength="56.1" lengthAdjust="spacingAndGlyphs">gnavus group</text>
<rect x="146.6" y="502.7" width="8.8" height="8.9" fill="#a0125a" stroke="#1a1a1a" stroke-width="1"/><text class="lg" x="160.4" y="510.5" textLength="48.4" lengthAdjust="spacingAndGlyphs">Bacteroides</text>
<rect x="146.6" y="519.9" width="8.8" height="8.9" fill="#6e2c0e" stroke="#1a1a1a" stroke-width="1"/><text class="lg" x="160.4" y="527.6999999999999" textLength="65.1" lengthAdjust="spacingAndGlyphs">Bifidobacterium</text>
<rect x="146.6" y="537.1" width="8.8" height="8.9" fill="#4a8f2e" stroke="#1a1a1a" stroke-width="1"/><text class="lg" x="160.4" y="544.9" textLength="34.8" lengthAdjust="spacingAndGlyphs">Alistipes</text>
<rect x="146.6" y="554.3" width="8.8" height="8.9" fill="#1f9a40" stroke="#1a1a1a" stroke-width="1"/><text class="lg" x="160.4" y="562.0999999999999" textLength="57.9" lengthAdjust="spacingAndGlyphs">Butyricicoccus</text>
<rect x="146.6" y="571.5" width="8.8" height="8.9" fill="#0f4a1e" stroke="#1a1a1a" stroke-width="1"/><text class="lg" x="160.4" y="579.3" textLength="58.2" lengthAdjust="spacingAndGlyphs">Streptococcus</text>
<rect x="146.6" y="588.7" width="8.8" height="8.9" fill="#4e8e50" stroke="#1a1a1a" stroke-width="1"/><text class="lg" x="160.4" y="596.5" textLength="49.9" lengthAdjust="spacingAndGlyphs">Lactococcus</text>
<rect x="146.6" y="605.9" width="8.8" height="8.9" fill="#8aaad5" stroke="#1a1a1a" stroke-width="1"/><text class="lg" x="160.4" y="613.6999999999999" textLength="58.7" lengthAdjust="spacingAndGlyphs">Ruminococcus</text>
<rect x="146.6" y="623.1" width="8.8" height="8.9" fill="#6ab8e8" stroke="#1a1a1a" stroke-width="1"/><text class="lg" x="160.4" y="630.9" textLength="69.4" lengthAdjust="spacingAndGlyphs">Faecalibacterium</text>
<rect x="146.6" y="640.3" width="8.8" height="8.9" fill="#1a8ad5" stroke="#1a1a1a" stroke-width="1"/><text class="lg" x="160.4" y="648.0999999999999" textLength="69.4" lengthAdjust="spacingAndGlyphs">Subdoligranulum</text>
<rect x="146.6" y="657.5" width="8.8" height="8.9" fill="#606060" stroke="#1a1a1a" stroke-width="1"/><text class="lg" x="160.4" y="665.3" textLength="59.4" lengthAdjust="spacingAndGlyphs">Other bacteria</text>
</svg></div></body></html>
